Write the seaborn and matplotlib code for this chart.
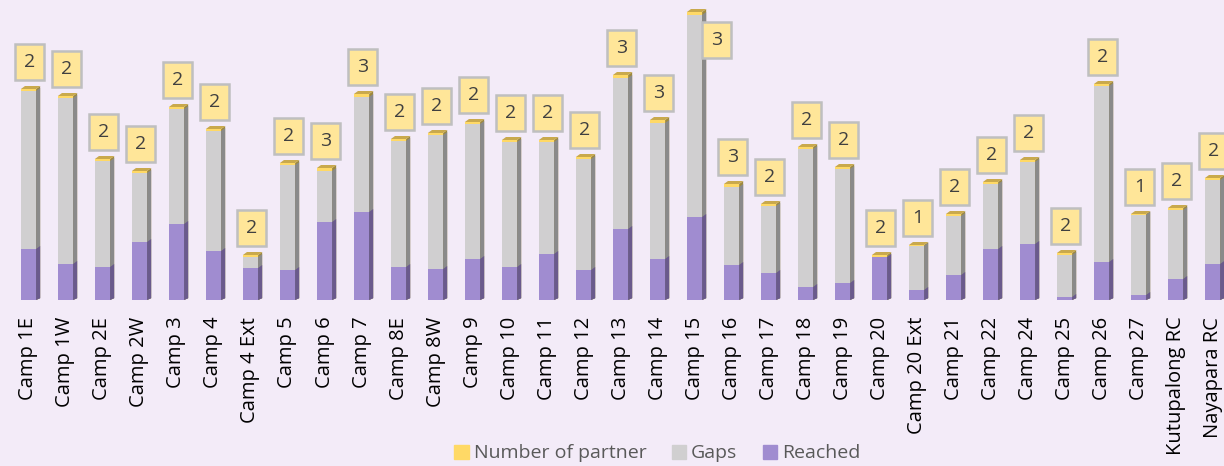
import pandas as pd
import seaborn as sns
import matplotlib.pyplot as plt
from matplotlib.patches import Polygon, Patch

camps = ["Camp 1E", "Camp 1W", "Camp 2E", "Camp 2W", "Camp 3", "Camp 4", "Camp 4 Ext",
         "Camp 5", "Camp 6", "Camp 7", "Camp 8E", "Camp 8W", "Camp 9", "Camp 10",
         "Camp 11", "Camp 12", "Camp 13", "Camp 14", "Camp 15", "Camp 16", "Camp 17",
         "Camp 18", "Camp 19", "Camp 20", "Camp 20 Ext", "Camp 21", "Camp 22", "Camp 24",
         "Camp 25", "Camp 26", "Camp 27", "Kutupalong RC", "Nayapara RC"]
reached = [51, 36, 33, 58, 76, 49, 32, 30, 78, 88, 33, 31, 41, 33, 46, 30, 71,
           41, 83, 35, 27, 13, 17, 43, 10, 25, 51, 56, 3, 38, 5, 21, 36]
gaps = [158, 166, 106, 69, 115, 120, 11, 105, 51, 115, 126, 134, 135, 125, 112, 111, 151,
        136, 202, 78, 67, 138, 114, 0, 44, 59, 65, 82, 42, 176, 80, 69, 84]
partners = [2, 2, 2, 2, 2, 2, 2, 2, 3, 3, 2, 2, 2, 2, 2, 2, 3,
            3, 3, 3, 2, 2, 2, 2, 1, 2, 2, 2, 2, 2, 1, 2, 2]

BG = "#f3ebf8"
YELLOW, YELLOW_TOP, YELLOW_SIDE = "#ffd966", "#c9a94d", "#a08a3c"
GRAY, GRAY_SIDE = "#d0cfd0", "#8a8a8a"
PURPLE, PURPLE_SIDE = "#a08cd0", "#6a5a8c"

df = pd.DataFrame({"camp": camps, "reached": reached, "gaps": gaps, "partners": partners})
df["lvl_gray"] = df["reached"] + df["gaps"]
df["lvl_all"] = df["lvl_gray"] + df["partners"]

plt.rcParams["font.family"] = ["Open Sans", "DejaVu Sans"]

fig = plt.figure(figsize=(12.24, 4.66), dpi=100, facecolor=BG)
ax = fig.add_axes([0, 1 - 300 / 466, 1, 300 / 466])
ax.set_facecolor(BG)

W = 0.41
DX, DY = 0.11, 3


def draw_layer(col, front, side, top=None):
    n0 = len(ax.patches)
    sns.barplot(data=df, x="camp", y=col, color=front, width=W, saturation=1,
                errorbar=None, linewidth=0, ax=ax)
    for r in list(ax.patches[n0:]):
        x0, w, h = r.get_x(), r.get_width(), r.get_height()
        if h <= 0:
            continue
        ax.add_patch(Polygon([(x0 + w, 0), (x0 + w + DX, DY * 0.6), (x0 + w + DX, h + DY),
                              (x0 + w, h)], closed=True, fc=side, ec="none"))
        if top:
            ax.add_patch(Polygon([(x0, h), (x0 + DX, h + DY), (x0 + w + DX, h + DY),
                                  (x0 + w, h)], closed=True, fc=top, ec="none"))


draw_layer("lvl_all", YELLOW, YELLOW_SIDE, YELLOW_TOP)
draw_layer("lvl_gray", GRAY, GRAY_SIDE)
draw_layer("reached", PURPLE, PURPLE_SIDE)

ymax = 300
for i, (h, p) in enumerate(zip(df["lvl_all"], df["partners"])):
    off = (1, 27)
    if h > ymax - 40:
        off = (22, -28)
    ax.annotate(str(p), xy=(i, h), xytext=off, textcoords="offset pixels",
                ha="center", va="center", fontsize=14, color="#404040",
                bbox=dict(boxstyle="square,pad=0.45", fc="#ffe699", ec="#bfbfbf", lw=1.8),
                annotation_clip=False)

ax.set_xlim(-0.77, 32.31)
ax.set_ylim(0, ymax)
ax.set_xlabel("")
ax.set_ylabel("")
ax.set_yticks([])
for s in ax.spines.values():
    s.set_visible(False)
ax.tick_params(axis="x", length=0, pad=12, labelsize=14.5, labelrotation=90, labelcolor="black")

handles = [Patch(color=YELLOW, label="Number of partner"),
           Patch(color=GRAY, label="Gaps"),
           Patch(color=PURPLE, label="Reached")]
fig.legend(handles=handles, loc="lower center", bbox_to_anchor=(0.537, -0.03), ncol=3,
           frameon=False, fontsize=14, handlelength=0.75, handleheight=0.75,
           handletextpad=0.25, columnspacing=1.3, labelcolor="#595959")

fig.savefig("out.png", dpi=100, facecolor=BG)
